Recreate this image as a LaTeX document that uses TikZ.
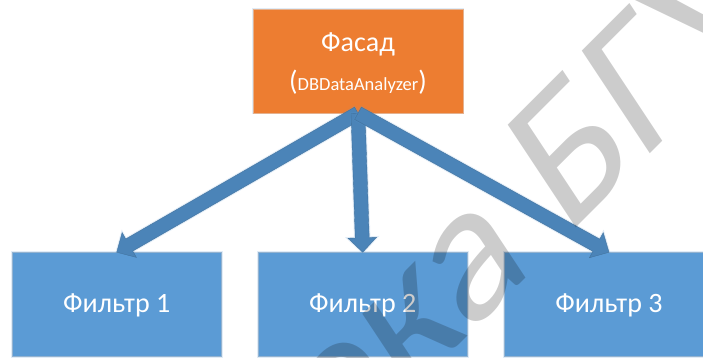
\documentclass[tikz,border=0pt]{standalone}
\usepackage{fontspec}
\setmainfont{Carlito}
\usetikzlibrary{calc}
\definecolor{boxblue}{HTML}{5B9BD5}
\definecolor{boxorange}{HTML}{ED7D31}
\definecolor{arrowblue}{HTML}{4B84B8}
\definecolor{arrowline}{HTML}{41719C}
\tikzset{
  x=1pt,y=1pt,
  glow/.style={preaction={draw=boxblue,draw opacity=.18,line width=2.4pt}},
  softbox/.style={rectangle,inner sep=0pt,minimum width=209.5pt,minimum height=104pt,line width=.5pt,glow},
  filterbox/.style={softbox,fill=boxblue,draw=boxblue!70!gray!70},
  facadebox/.style={softbox,fill=boxorange,draw=boxorange!75!gray!60},
  label/.style={inner sep=0pt,text=white,font=\fontsize{28}{32}\selectfont},
  blockarrow/.style={glow,fill=arrowblue,draw=arrowline,line width=.35pt,line join=miter},
  wmark/.style={transform shape,anchor=base west,inner sep=0pt,text=black,text opacity=.2,font=\fontsize{100}{120}\selectfont}
}
\newcommand{\blockarr}[2]{%
  \coordinate (n) at ($(#2)!14.5pt!(#1)$);
  \draw[blockarrow] ($(#1)!7pt!90:(#2)$) -- ($(n)!7pt!-90:(#1)$) -- ($(n)!14.3pt!-90:(#1)$) -- (#2)
    -- ($(n)!14.3pt!90:(#1)$) -- ($(n)!7pt!90:(#1)$) -- ($(#1)!7pt!-90:(#2)$) -- cycle;
}
\begin{document}
\begin{tikzpicture}
\useasboundingbox (0,0) rectangle (703,358);
\clip (0,0) rectangle (703,358);
\fill[white] (0,0) rectangle (703,358);
\node[facadebox] (facade) at (358,297) {};
\node[filterbox] (f1) at (116.7,53.5) {};
\node[filterbox] (f2) at (362.7,53.5) {};
\node[filterbox] (f3) at (609,53.5) {};
\node[label] (t0) at (358,314) {Фасад};
\node[label] (t1) at (358,276) {({\fontsize{18.5}{22}\selectfont DBDataAnalyzer})};
\node[label] (t2) at (116.7,53) {Фильтр 1};
\node[label] (t3) at (362.7,53) {Фильтр 2};
\node[label] (t4) at (609,53) {Фильтр 3};
\blockarr{facade.south}{f1.north}
\blockarr{facade.south}{f2.north}
\blockarr{facade.south}{f3.north}
\begin{scope}[cm={1.40,1.40,-1.06,1.60,(566,120)}]
\node[wmark] (w) at (0,0) {\llap{ека }БГУ};
\end{scope}
\end{tikzpicture}
\end{document}
